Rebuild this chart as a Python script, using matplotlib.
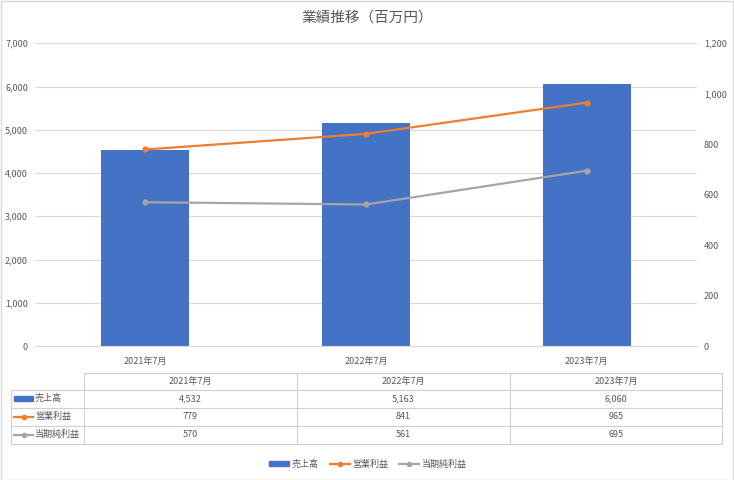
import numpy as np
import matplotlib
matplotlib.use('Agg')
import matplotlib.pyplot as plt
from matplotlib.patches import Rectangle
from matplotlib.lines import Line2D

plt.rcParams['font.family'] = ['Noto Sans CJK JP', 'DejaVu Sans']

# データ
periods = ['2021年7月', '2022年7月', '2023年7月']
sales = [4532, 5163, 6060]
op_profit = [779, 841, 965]
net_profit = [570, 561, 695]
series_names = ['売上高', '営業利益', '当期純利益']

c_bar = '#4472C4'
c_op = '#ED7D31'
c_net = '#A5A5A5'
c_txt = '#595959'
c_grid = '#D9D9D9'

W, H = 734, 480
fig = plt.figure(figsize=(W / 100, H / 100), dpi=100)


def box(x0, y0, x1, y1):
    # ピクセル座標(左上原点)から figure 座標へ
    return [x0 / W, 1 - y1 / H, (x1 - x0) / W, (y1 - y0) / H]


# 外枠
fig.add_artist(Rectangle((0.5 / W, 0.5 / H), 1 - 1.5 / W, 1 - 1.5 / H,
                         transform=fig.transFigure, fill=False,
                         edgecolor=c_grid, linewidth=1))

fig.text(367 / W, 1 - 18 / H, '業績推移（百万円）', ha='center', va='center',
         fontsize=10.5, color=c_txt)

ax = fig.add_axes(box(35, 43.3, 697, 346))
x = np.arange(len(periods))
ax.bar(x, sales, width=0.4, color=c_bar, zorder=2)
ax.set_ylim(0, 7000)
ax.set_yticks(range(0, 7001, 1000))
ax.set_yticklabels([f'{v:,}' for v in range(0, 7001, 1000)])
ax.set_xlim(-0.5, 2.5)
ax.set_xticks(x)
ax.set_xticklabels(periods)
ax.grid(axis='y', color=c_grid, linewidth=0.8, zorder=0)
for s in ['top', 'right', 'left']:
    ax.spines[s].set_visible(False)
ax.spines['bottom'].set_color(c_grid)
ax.tick_params(length=0, labelsize=6.5, colors=c_txt, pad=8)
ax.tick_params(axis='y', pad=5)

ax2 = ax.twinx()
ax2.plot(x, op_profit, color=c_op, linewidth=1.6, marker='o', markersize=3.5, zorder=3)
ax2.plot(x, net_profit, color=c_net, linewidth=1.6, marker='o', markersize=3.5, zorder=3)
ax2.set_ylim(0, 1200)
ax2.set_yticks(range(0, 1201, 200))
ax2.set_yticklabels([f'{v:,}' for v in range(0, 1201, 200)])
for s in ax2.spines.values():
    s.set_visible(False)
ax2.tick_params(length=0, labelsize=6.5, colors=c_txt, pad=5)

# データテーブル
tab = fig.add_axes(box(0, 0, W, H))
tab.set_xlim(0, W)
tab.set_ylim(H, 0)
tab.axis('off')

rows_y = [373, 389.5, 407.5, 425.5, 443.5]
cols_x = [11, 84, 297, 510, 722]
lc = '#D0D0D0'
# 横線
tab.plot([cols_x[1], cols_x[-1]], [rows_y[0]] * 2, color=lc, lw=0.8)
for yy in rows_y[1:]:
    tab.plot([cols_x[0], cols_x[-1]], [yy] * 2, color=lc, lw=0.8)
# 縦線
tab.plot([cols_x[0]] * 2, [rows_y[1], rows_y[-1]], color=lc, lw=0.8)
for xx in cols_x[1:]:
    tab.plot([xx] * 2, [rows_y[0], rows_y[-1]], color=lc, lw=0.8)

for j, p in enumerate(periods):
    cx = (cols_x[j + 1] + cols_x[j + 2]) / 2
    tab.text(cx, (rows_y[0] + rows_y[1]) / 2, p, ha='center', va='center',
             fontsize=6.5, color=c_txt)

table_data = [sales, op_profit, net_profit]
colors = [c_bar, c_op, c_net]
for i, (name, vals, col) in enumerate(zip(series_names, table_data, colors)):
    cy = (rows_y[i + 1] + rows_y[i + 2]) / 2
    if i == 0:
        tab.add_patch(Rectangle((14, cy - 2.5), 19, 5, color=col))
    else:
        tab.plot([14, 33], [cy, cy], color=col, lw=1.6)
        tab.plot([23.5], [cy], marker='o', color=col, markersize=3)
    tab.text(35, cy, name, ha='left', va='center', fontsize=6.5, color=c_txt)
    for j, v in enumerate(vals):
        cx = (cols_x[j + 1] + cols_x[j + 2]) / 2
        tab.text(cx, cy, f'{v:,}', ha='center', va='center', fontsize=6.5, color=c_txt)

# 凡例
handles = [
    Rectangle((0, 0), 1, 1, color=c_bar),
    Line2D([], [], color=c_op, lw=1.6, marker='o', markersize=3),
    Line2D([], [], color=c_net, lw=1.6, marker='o', markersize=3),
]
fig.legend(handles, series_names, loc='center', bbox_to_anchor=(368 / W, 1 - 464 / H),
           ncol=3, frameon=False, fontsize=6.5, labelcolor=c_txt,
           handlelength=2.2, handleheight=0.6, columnspacing=1.2, handletextpad=0.3)

fig.savefig('out.png', dpi=100)
